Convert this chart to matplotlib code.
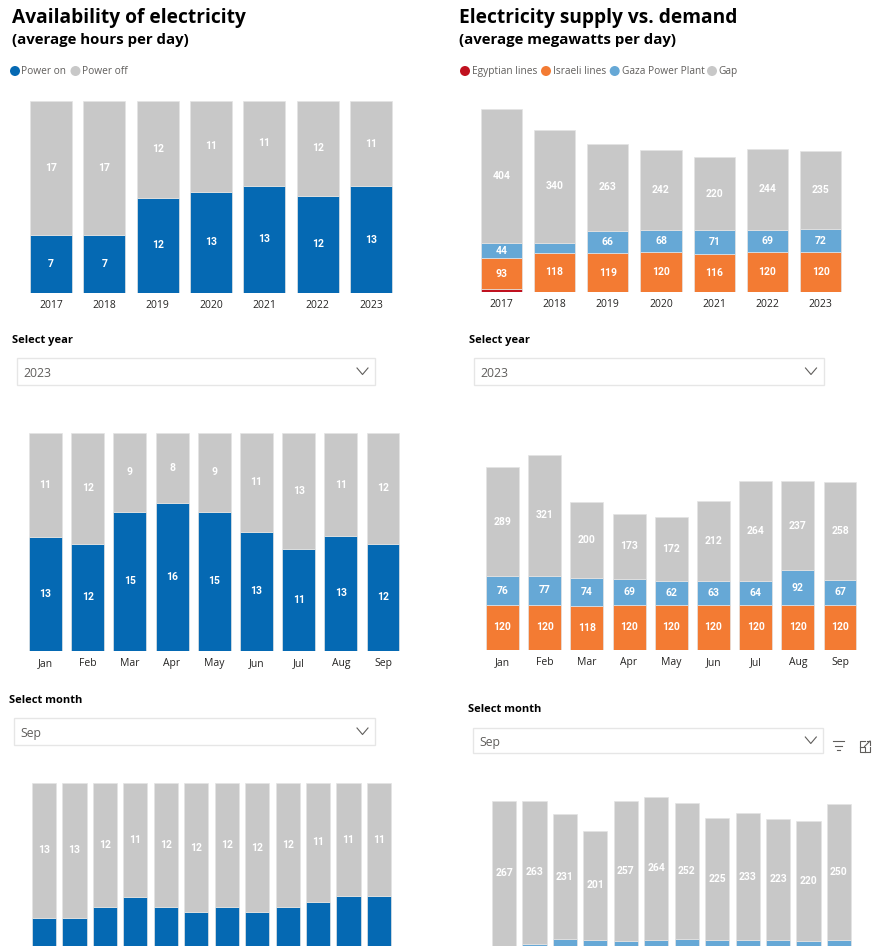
import numpy as np
import matplotlib
matplotlib.use("Agg")
import matplotlib.pyplot as plt
from matplotlib.patches import Rectangle, Circle

W, H = 872, 946
plt.rcParams['font.family'] = ['Open Sans', 'DejaVu Sans']

C_ON = '#0569b3'
C_OFF = '#c8c8c8'
C_EGY = '#c0111f'
C_ISR = '#f37b33'
C_GPP = '#66a8d6'
C_GAP = '#c8c8c8'
TXT = '#252423'
MUTED = '#605e5c'

# ---- availability of electricity (hours per day) ----
years = ['2017', '2018', '2019', '2020', '2021', '2022', '2023']
year_on = [7.22, 7.2, 11.9, 12.64, 13.35, 12.14, 13.3]
year_off = [16.78, 16.8, 12.1, 11.36, 10.65, 11.86, 10.7]

months = ['Jan', 'Feb', 'Mar', 'Apr', 'May', 'Jun', 'Jul', 'Aug', 'Sep']
month_on = [12.55, 11.8, 15.3, 16.3, 15.3, 13.1, 11.2, 12.6, 11.75]
month_off = [11.45, 12.2, 8.7, 7.7, 8.7, 10.9, 12.8, 11.4, 12.25]

days = ['1', '2', '3', '4', '5', '6', '7', '8', '9', '10', '11', '12']
day_on = [11.14, 11.14, 12.2, 13.14, 12.2, 11.65, 12.2, 11.65, 12.2, 12.67, 13.17, 13.17]
day_off = [12.86, 12.86, 11.8, 10.86, 11.8, 12.35, 11.8, 12.35, 11.8, 11.33, 10.83, 10.83]

# ---- electricity supply vs demand (MW per day) ----
year_egy = [10, 1, 0, 0, 0, 0, 0]
year_isr = [93, 118, 119, 120, 116, 120, 120]
year_gpp = [44, 30, 66, 68, 71, 69, 72]
year_gap = [404, 340, 263, 242, 220, 244, 235]

month_egy = [0, 0, 0, 0, 0, 0, 0, 0, 0]
month_isr = [120, 120, 118, 120, 120, 120, 120, 120, 120]
month_gpp = [76, 77, 74, 69, 62, 63, 64, 92, 67]
month_gap = [289, 321, 200, 173, 172, 212, 264, 237, 258]

day_egy = [0, 0, 0, 0, 0, 0, 0, 0, 0, 0, 0, 0]
day_isr = [120, 120, 120, 120, 120, 120, 120, 120, 120, 120, 120, 120]
day_gpp = [56, 60, 68, 67, 66, 67, 68, 67, 67, 67, 66, 67]
day_gap = [267, 263, 231, 201, 257, 264, 252, 225, 233, 223, 220, 250]

fig = plt.figure(figsize=(W / 100, H / 100), dpi=100)
fig.patch.set_facecolor('white')

# overlay in pixel coordinates for the report furniture
ov = fig.add_axes([0, 0, 1, 1])
ov.set_xlim(0, W)
ov.set_ylim(H, 0)
ov.axis('off')


def chart(left, right, top, base, px_per_unit, cats, series, colors, bar_w, show_ticks=True):
    ax = fig.add_axes([left / W, 1 - base / H, (right - left) / W, (base - top) / H])
    ax.set_facecolor('none')
    x = np.arange(len(cats))
    bottom = np.zeros(len(cats))
    for vals, col in zip(series, colors):
        vals = np.asarray(vals, float)
        ax.bar(x, vals, bar_w, bottom=bottom, color=col, edgecolor='#e4e4e4', linewidth=0.5)
        for xi, b, v in zip(x, bottom, vals):
            # label only segments tall enough, and only where the page shows them
            if v * px_per_unit >= 12 and base - (b + v / 2) * px_per_unit < H - 8:
                ax.text(xi, b + v / 2, f'{v:.0f}', ha='center', va='center', color='white',
                        fontsize=7.5, fontweight='bold', family=['Roboto', 'DejaVu Sans'])
        bottom += vals
    ax.set_xlim(-0.5, len(cats) - 0.5)
    ax.set_ylim(0, (base - top) / px_per_unit)
    if show_ticks:
        ax.set_xticks(x, cats)
    else:
        ax.set_xticks([])
    ax.tick_params(axis='x', length=0, pad=5, labelsize=7.5, labelcolor=TXT)
    ax.set_yticks([])
    for s in ax.spines.values():
        s.set_visible(False)
    return ax


# left column
chart(24.4, 397.6, 100.7, 292.7, 7.99, years, [year_on, year_off], [C_ON, C_OFF], 0.788)
chart(24.4, 404.1, 432.7, 650.7, 9.08, months, [month_on, month_off], [C_ON, C_OFF], 0.78)
chart(28.8, 394.2, 782.7, 1034.7, 10.5, days, [day_on, day_off], [C_ON, C_OFF], 0.79,
      show_ticks=False)

# right column
chart(474.7, 847.3, 100, 292.3, 0.332, years, [year_egy, year_isr, year_gpp, year_gap],
      [C_EGY, C_ISR, C_GPP, C_GAP], 0.776)
chart(481.4, 861.1, 440, 650, 0.3765, months, [month_egy, month_isr, month_gpp, month_gap],
      [C_EGY, C_ISR, C_GPP, C_GAP], 0.78)
chart(488.8, 854.2, 790, 1041.5, 0.543, days, [day_egy, day_isr, day_gpp, day_gap],
      [C_EGY, C_ISR, C_GPP, C_GAP], 0.79, show_ticks=False)

# titles
ov.text(12, 23, 'Availability of electricity', fontsize=13.8, fontweight='bold', color='black', va='baseline')
ov.text(12, 44, '(average hours per day)', fontsize=10.8, fontweight='bold', color='black', va='baseline')
ov.text(459, 23, 'Electricity supply vs. demand', fontsize=13.8, fontweight='bold', color='black', va='baseline')
ov.text(459, 44, '(average megawatts per day)', fontsize=10.8, fontweight='bold', color='black', va='baseline')

# legends
legend_left = [(15, 21, 'Power on', C_ON), (75.5, 82, 'Power off', C_OFF)]
legend_right = [(465, 471.7, 'Egyptian lines', C_EGY), (546, 553, 'Israeli lines', C_ISR),
                (614.7, 621.7, 'Gaza Power Plant', C_GPP), (712, 718.3, 'Gap', C_GAP)]
for cx, tx, lab, col in legend_left + legend_right:
    ov.add_patch(Circle((cx, 71), 5, color=col, lw=0))
    ov.text(tx, 71.5, lab, fontsize=7.3, color=MUTED, va='center')


def dropdown(label, lx, ly, x0, y0, x1, y1, value):
    ov.text(lx, ly, label, fontsize=8, fontweight='bold', color='black', va='center')
    ov.add_patch(Rectangle((x0, y0), x1 - x0, y1 - y0, fill=False, edgecolor='#e6e6e6', lw=1))
    ov.text(x0 + 6, (y0 + y1) / 2 + 2, value, fontsize=8.8, color=MUTED, va='center')
    cx, cy = x1 - 12.5, (y0 + y1) / 2
    ov.plot([cx - 5.5, cx, cx + 5.5], [cy - 3.5, cy + 3, cy - 3.5], color=MUTED, lw=0.8)


dropdown('Select year', 12, 340.5, 17, 358, 375, 385, '2023')
dropdown('Select year', 469, 340.5, 474, 358, 823.5, 385, '2023')
dropdown('Select month', 9, 700.5, 14, 718, 375, 745, 'Sep')
dropdown('Select month', 468, 709.5, 473.3, 727.7, 823.3, 753.3, 'Sep')

# visual header icons
for xa, xb, yy in [(832.5, 844, 741), (834.5, 842, 745.7), (836.5, 840, 750)]:
    ov.plot([xa, xb], [yy, yy], color=MUTED, lw=0.8)
ov.plot([864.5, 859.5, 859.5, 870, 870], [741, 741, 751.5, 751.5, 746.5], color=MUTED, lw=0.8)
ov.plot([859.5, 864.5, 864.5], [746.5, 746.5, 751.5], color=MUTED, lw=0.8)
ov.plot([864.5, 870], [746.5, 741], color=MUTED, lw=0.8)
ov.plot([866.5, 870, 870], [741, 741, 744.5], color=MUTED, lw=0.8)

fig.savefig('out.png', dpi=100)
